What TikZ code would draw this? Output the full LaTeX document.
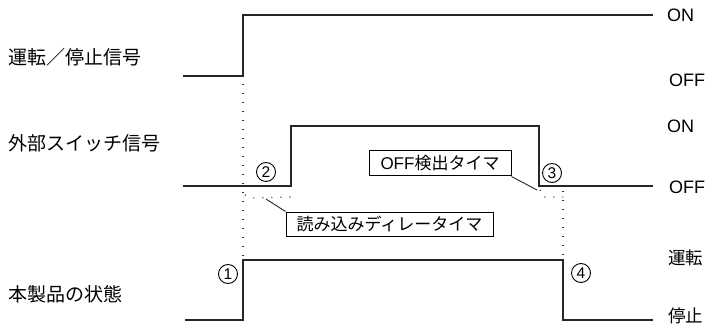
\documentclass[tikz,border=0pt]{standalone}
\usepackage{fontspec}
\setmainfont{Liberation Sans}
\newfontfamily\jp{Noto Sans CJK JP}
\begin{document}
\begin{tikzpicture}[x=1pt,y=-1pt,
  sig/.style={line width=1.3pt, color=black!85, line join=miter},
  dotline/.style={line width=1.1pt, color=black!80, dash pattern=on 1.1pt off 7.9pt},
  thinline/.style={line width=0.9pt, color=black!85},
  sidelbl/.style={font=\jp\fontsize{19}{19}\selectfont, anchor=west, inner sep=0pt},
  statelbl/.style={font=\fontsize{18}{18}\selectfont, anchor=west, inner sep=0pt},
  jstatelbl/.style={font=\jp\fontsize{17.5}{17.5}\selectfont, anchor=west, inner sep=0pt},
  timerbox/.style={draw, line width=1pt, inner sep=0pt, font=\fontsize{16}{16}\selectfont},
  circnum/.style={circle, draw, line width=0.9pt, minimum size=19pt, inner sep=0pt, font=\fontsize{15.5}{15.5}\selectfont}]
\useasboundingbox (0,0) rectangle (709,331);

% left labels
\node[sidelbl] (l1) at (8,57) {\jp 運転／停止信号};
\node[sidelbl] (l2) at (8,143) {\jp 外部スイッチ信号};
\node[sidelbl] (l3) at (8,294) {\jp 本製品の状態};

% right labels
\node[statelbl] (on1) at (667,15) {ON};
\node[statelbl] (off1) at (669,80) {OFF};
\node[statelbl] (on2) at (667,126) {ON};
\node[statelbl] (off2) at (669,187) {OFF};
\node[jstatelbl] (run) at (668,258) {運転};
\node[jstatelbl] (stop) at (668,316) {停止};

% signal 1
\draw[sig] (183,76) -- (243,76) -- (243,15) -- (653,15);
% signal 2
\draw[sig] (183,186) -- (291,186) -- (291,126) -- (539,126) -- (539,186) -- (653,186);
% signal 3
\draw[sig] (185,320) -- (243,320) -- (243,260) -- (563,260) -- (563,320) -- (653,320);

% dotted verticals
\draw[dotline] (243,84) -- (243,256);
\draw[dotline] (563,191) -- (563,256);
% dotted delay marks
\draw[dotline] (245,195) -- (252,198) -- (290,197) -- (291,190);
\draw[dotline] (540,190) -- (543,197) -- (563,197);

% circled numbers
\node[circnum] (c2) at (266,172) {2};
\node[circnum] (c3) at (552,173) {3};
\node[circnum] (c1) at (228,274) {1};
\node[circnum] (c4) at (581,273) {4};

% timer boxes
\node[timerbox, minimum width=207pt, minimum height=24pt] (t1) at (389.5,224) {\jp\fontsize{17}{17}\selectfont 読み込みディレータイマ};
\node[timerbox, minimum width=142pt, minimum height=25pt] (t2) at (440,163.5) {\fontsize{17}{17}\selectfont OFF{\jp 検出タイマ}};

\coordinate (p1) at (266,199);
\coordinate (p2) at (537,190);
\draw[thinline] (t1.north west) -- (p1);
\draw[thinline] (t2.south east) -- (p2);
\end{tikzpicture}
\end{document}
